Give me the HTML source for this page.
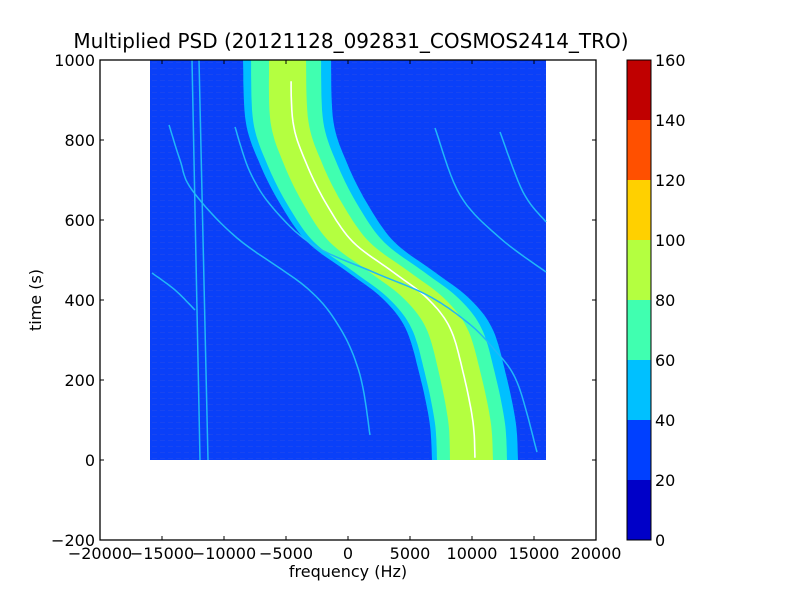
<!DOCTYPE html>
<html><head><meta charset="utf-8"><style>
body{margin:0;background:#fff;}
svg text{font-family:"DejaVu Sans","Liberation Sans",sans-serif;fill:#000;}
</style></head><body>
<svg id="s" width="800" height="600" xmlns="http://www.w3.org/2000/svg">
<rect width="800" height="600" fill="#fff"/>
<text x="351" y="48" font-size="20" text-anchor="middle">Multiplied PSD (20121128_092831_COSMOS2414_TRO)</text>
<rect x="150" y="60" width="396" height="400" fill="#0a40f8"/>
<defs><pattern id="n" width="8" height="6" patternUnits="userSpaceOnUse"><rect x="0" y="2" width="5" height="1" fill="#3a55e0" opacity="0.6"/></pattern></defs>
<rect x="150" y="60" width="396" height="400" fill="url(#n)" opacity="0.5"/>
<g id="band"></g>
<g id="lines" fill="none" stroke="#20b8f8" stroke-width="1.5">
<line x1="192" y1="60" x2="200" y2="460"/>
<line x1="199" y1="60" x2="208" y2="460"/>
</g>
<rect x="100" y="60" width="496" height="480" fill="none" stroke="#000" stroke-width="1.3"/>
<g stroke="#000" stroke-width="1">
<path d="M100,60v4M162,60v4M224,60v4M286,60v4M348,60v4M410,60v4M472,60v4M534,60v4M596,60v4
M100,540v-4M162,540v-4M224,540v-4M286,540v-4M348,540v-4M410,540v-4M472,540v-4M534,540v-4M596,540v-4
M100,60h4M100,140h4M100,220h4M100,300h4M100,380h4M100,460h4M100,540h4
M596,60h-4M596,140h-4M596,220h-4M596,300h-4M596,380h-4M596,460h-4M596,540h-4"/>
</g>
<g font-size="16" text-anchor="middle">
<text x="100" y="559">−20000</text><text x="162" y="559">−15000</text><text x="224" y="559">−10000</text><text x="286" y="559">−5000</text><text x="348" y="559">0</text><text x="410" y="559">5000</text><text x="472" y="559">10000</text><text x="534" y="559">15000</text><text x="596" y="559">20000</text>
</g>
<g font-size="16" text-anchor="end">
<text x="95" y="66">1000</text><text x="95" y="146">800</text><text x="95" y="226">600</text><text x="95" y="306">400</text><text x="95" y="386">200</text><text x="95" y="466">0</text><text x="95" y="546">−200</text>
</g>
<text x="348" y="577" font-size="16" text-anchor="middle">frequency (Hz)</text>
<text x="41" y="300" font-size="16" text-anchor="middle" transform="rotate(-90 41 300)">time (s)</text>
<rect x="627" y="60" width="24" height="60" fill="#c00000"/>
<rect x="627" y="120" width="24" height="60" fill="#ff5000"/>
<rect x="627" y="180" width="24" height="60" fill="#ffd000"/>
<rect x="627" y="240" width="24" height="60" fill="#b4ff40"/>
<rect x="627" y="300" width="24" height="60" fill="#40ffb0"/>
<rect x="627" y="360" width="24" height="60" fill="#00c0ff"/>
<rect x="627" y="420" width="24" height="60" fill="#0040ff"/>
<rect x="627" y="480" width="24" height="60" fill="#0000c8"/>
<rect x="627" y="60" width="24" height="480" fill="none" stroke="#000"/>
<g font-size="16">
<text x="655" y="66">160</text><text x="655" y="126">140</text><text x="655" y="186">120</text><text x="655" y="246">100</text><text x="655" y="306">80</text><text x="655" y="366">60</text><text x="655" y="426">40</text><text x="655" y="486">20</text><text x="655" y="546">0</text>
</g>
</svg>
<script>
function cr(pts){var o=[];for(var i=0;i<pts.length-1;i++){var p0=pts[Math.max(0,i-1)],p1=pts[i],p2=pts[i+1],p3=pts[Math.min(pts.length-1,i+2)];for(var t=0;t<1;t+=0.1){var t2=t*t,t3=t2*t;function f(a,b,c,d){return 0.5*(2*b+(-a+c)*t+(2*a-5*b+4*c-d)*t2+(-a+3*b-3*c+d)*t3);}o.push([f(p0[0],p1[0],p2[0],p3[0]),f(p0[1],p1[1],p2[1],p3[1])]);}}o.push(pts[pts.length-1]);return o;}
var C=cr([[291,60],[293,122],[307,165],[327,205],[353,242],[393,272],[427,298],[450,328],[463,372],[473,422],[475,460]]);
var NS="http://www.w3.org/2000/svg";
function poly(g,pts,attrs){var e=document.createElementNS(NS,pts.closed?"polygon":"polyline");e.setAttribute("points",pts.map(function(p){return p[0].toFixed(1)+","+p[1].toFixed(1)}).join(" "));for(var k in attrs)e.setAttribute(k,attrs[k]);g.appendChild(e);}
var band=document.getElementById("band");
[[ "#00c0ff",-48,40,-43,43],["#40ffb0",-40,30,-38,32],["#b4ff40",-22,15,-25,18]].forEach(function(L){
 var left=[],right=[];C.forEach(function(p){var f=(p[1]-60)/400;var a=L[1]+(L[3]-L[1])*f,b=L[2]+(L[4]-L[2])*f;left.push([p[0]+a,p[1]]);right.push([p[0]+b,p[1]]);});
 var pts=left.concat(right.reverse());pts.closed=true;poly(band,pts,{fill:L[0]});
});
poly(band,C.filter(function(p){return p[1]>=75&&p[1]<=458;}),{fill:"none",stroke:"#fff","stroke-width":"1.6"});
var lg=document.getElementById("lines");
[[[169,125],[180,160],[192,190],[237,238],[307,288],[340,328],[360,375],[370,435]],
 [[235,127],[250,172],[273,208],[313,245],[373,272],[427,295],[467,322],[493,348],[517,382],[537,452]],
 [[435,128],[460,195],[500,238],[546,272]],
 [[500,132],[523,192],[546,222]],
 [[152,273],[175,290],[195,310]]].forEach(function(p){poly(lg,cr(p),{});});
</script>
</body></html>
